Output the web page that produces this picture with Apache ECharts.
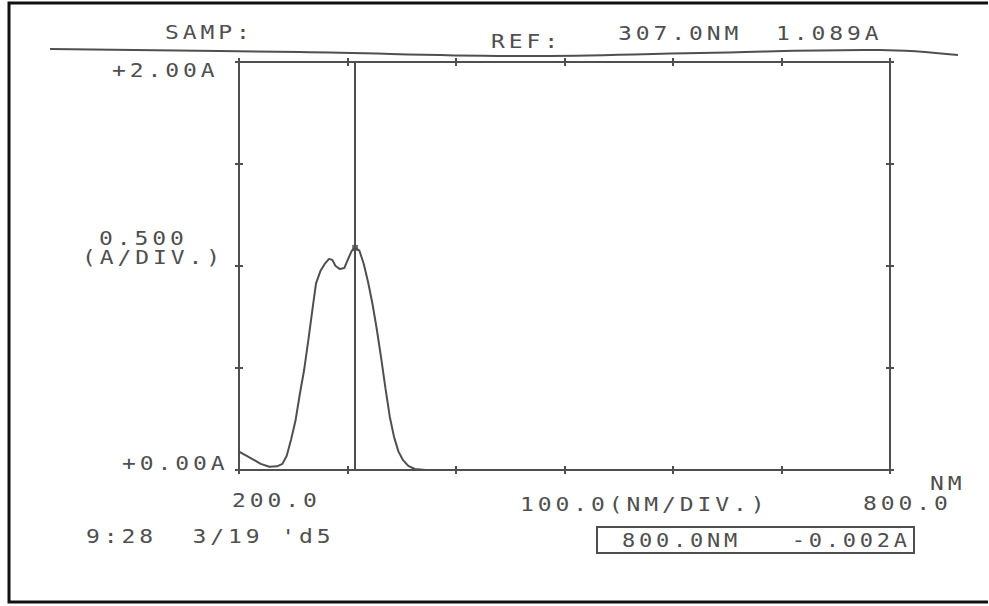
<!DOCTYPE html>
<html>
<head>
<meta charset="utf-8">
<script src="https://cdn.jsdelivr.net/npm/echarts@6/dist/echarts.min.js"></script>
<style>
  html, body { margin: 0; padding: 0; background: #ffffff; }
  /* printer-style wide character pitch for every SVG text node */
  #chart { width: 989px; height: 606px; letter-spacing: 3.4px; }
</style>
</head>
<body>
<div id="chart"></div>
<script>
// Absorbance scan, 200–800 nm
const wavelengthNm = [200, 205, 212, 220, 228, 235, 240, 244, 248, 252, 256, 260, 264, 268, 271, 275, 279, 283, 286, 289, 293, 297, 301, 304, 307, 311, 315, 319, 323, 327, 331, 335, 339, 343, 347, 351, 356, 362, 372, 400, 500, 600, 700, 800];
const absorbanceA  = [0.090, 0.075, 0.055, 0.030, 0.016, 0.018, 0.030, 0.070, 0.150, 0.240, 0.370, 0.490, 0.640, 0.800, 0.915, 0.975, 1.010, 1.035, 1.030, 1.000, 0.985, 0.990, 1.040, 1.075, 1.089, 1.075, 1.010, 0.920, 0.815, 0.690, 0.550, 0.400, 0.260, 0.160, 0.090, 0.050, 0.020, 0.005, 0.000, -0.002, -0.002, -0.002, -0.002, -0.002];

// Cursor readouts
const cursorNm = 307.0;
const cursorAbs = 1.089;
const endNm = 800.0;
const endAbs = -0.002;

// Scale and annotation texts
const xTickLabels = ['200.0', '800.0'];
const yTickLabels = ['+2.00A', '+0.00A'];
const xScaleText = '100.0(NM/DIV.)';
const yScaleText = ['0.500', '(A/DIV.)'];
const xUnit = 'NM';
const headerLabels = ['SAMP:', 'REF:'];
const stampText = "9:28  3/19 'd5";

const ink = '#4f4f4f';
const font = '"DejaVu Sans Mono", "Liberation Mono", monospace';
// left-anchored printer text, stretched slightly wider than the font's own glyphs
const txt = (x, y, s, sx) => ({
  type: 'text', x: x, y: y, scaleX: sx || 1.15,
  style: { text: s, fill: ink, font: '20px ' + font, lineHeight: 15, textAlign: 'left', textVerticalAlign: 'middle' }
});

const seriesData = wavelengthNm.map((w, i) => [w, absorbanceA[i]]);

function xAx(pos, inside, showLine) {
  return {
    type: 'value', min: 200, max: 800, interval: 100, position: pos,
    axisLine: { show: showLine, onZero: false, lineStyle: { color: ink, width: 2 } },
    axisTick: { show: true, inside: inside, length: 4, lineStyle: { color: ink, width: 2 } },
    axisLabel: { show: false }, splitLine: { show: false }
  };
}
function yAx(pos, inside, showLine) {
  return {
    type: 'value', min: 0, max: 2, interval: 0.5, position: pos,
    axisLine: { show: showLine, onZero: false, lineStyle: { color: ink, width: 2 } },
    axisTick: { show: true, inside: inside, length: 4, lineStyle: { color: ink, width: 2 } },
    axisLabel: { show: false }, splitLine: { show: false }
  };
}

const chart = echarts.init(document.getElementById('chart'), null, { renderer: 'svg' });
chart.setOption({
  backgroundColor: '#ffffff',
  animation: false,
  grid: { left: 239, right: 99, top: 62, height: 408 },
  xAxis: [xAx('bottom', true, true), xAx('bottom', false, false), xAx('top', true, true), xAx('top', false, false)],
  yAxis: [yAx('left', true, true), yAx('left', false, false), yAx('right', true, true), yAx('right', false, false)],
  series: [
    {
      type: 'line', data: seriesData, showSymbol: false, silent: true,
      lineStyle: { color: ink, width: 2 },
      markLine: {
        silent: true, symbol: ['none', 'none'], label: { show: false },
        lineStyle: { color: ink, width: 2, type: 'solid' },
        data: [[{ coord: [cursorNm, 0] }, { coord: [cursorNm, 2] }]]
      }
    },
    {
      type: 'scatter', data: [[cursorNm, cursorAbs]], symbol: 'rect', symbolSize: 6,
      itemStyle: { color: ink }, silent: true
    }
  ],
  graphic: [
    // page frame
    { type: 'polyline', shape: { points: [[988, 3], [9, 3], [9, 602], [988, 602]] }, style: { stroke: '#111', lineWidth: 3, fill: null } },
    // header rule
    { type: 'polyline', shape: { smooth: 0.4, points: [[50, 49], [300, 52], [520, 56], [700, 53], [880, 50], [958, 55]] }, style: { stroke: ink, lineWidth: 2, fill: null } },
    txt(165, 32, headerLabels[0]),
    txt(491, 41, headerLabels[1]),
    txt(618, 33, cursorNm.toFixed(1) + 'NM'),
    txt(776, 33, cursorAbs.toFixed(3) + 'A'),
    txt(112, 70, yTickLabels[0]),
    txt(99, 238, yScaleText[0]),
    txt(82, 257, yScaleText[1]),
    txt(122, 463, yTickLabels[1]),
    txt(232, 500, xTickLabels[0]),
    txt(520, 504, xScaleText),
    txt(930, 483, xUnit),
    txt(863, 503, xTickLabels[1]),
    txt(86, 536, stampText),
    { type: 'rect', shape: { x: 597, y: 527, width: 317, height: 26 }, style: { stroke: ink, lineWidth: 2, fill: null } },
    txt(622, 540, endNm.toFixed(1) + 'NM   ' + endAbs.toFixed(3) + 'A', 1.1)
  ]
});
</script>
</body>
</html>
